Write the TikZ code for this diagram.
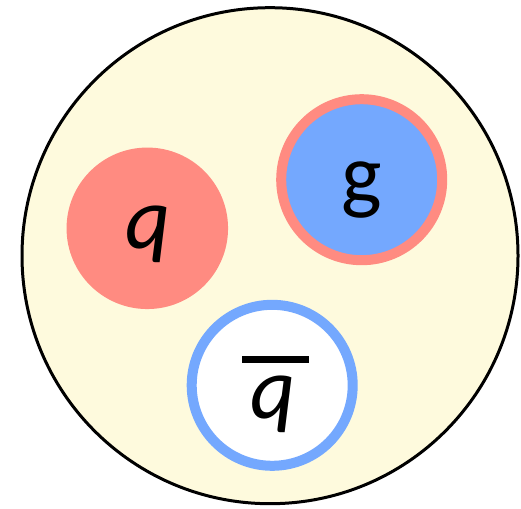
\documentclass[tikz,border=0pt]{standalone}
\usepackage{fontspec}
\setmainfont{Carlito}
\definecolor{bgyellow}{HTML}{FEFADD}
\definecolor{qpink}{HTML}{FF8B81}
\definecolor{gblue}{HTML}{74A8FE}
\begin{document}
\begin{tikzpicture}[x=1pt,y=-1pt,
  particle/.style={circle,inner sep=0pt,outer sep=0pt},
  lbl/.style={font=\fontsize{88}{88}\selectfont\itshape,inner sep=0pt,anchor=base},
  lblup/.style={font=\fontsize{86}{86}\selectfont,inner sep=0pt,anchor=base}]
\useasboundingbox (0,0) rectangle (521,508);
\node[particle,draw=black,line width=3pt,fill=bgyellow,minimum size=496pt] (hadron) at (270,255.7) {};
\node[particle,fill=qpink,minimum size=161.5pt] (quark) at (147.3,228.3) {};
\node[particle,draw=qpink,line width=10pt,fill=gblue,minimum size=161pt] (gluon) at (361.7,179.7) {};
\node[particle,draw=gblue,line width=10pt,fill=white,minimum size=161pt] (antiquark) at (272.2,385.3) {};
\node[lbl] (qlabel) at (148,248) {q};
\node[lblup] (glabel) at (362,203) {g};
\node[lbl] (qbarlabel) at (273,418) {q};
\fill[black] (242.3,356) rectangle (309.3,362.7);
\end{tikzpicture}
\end{document}
